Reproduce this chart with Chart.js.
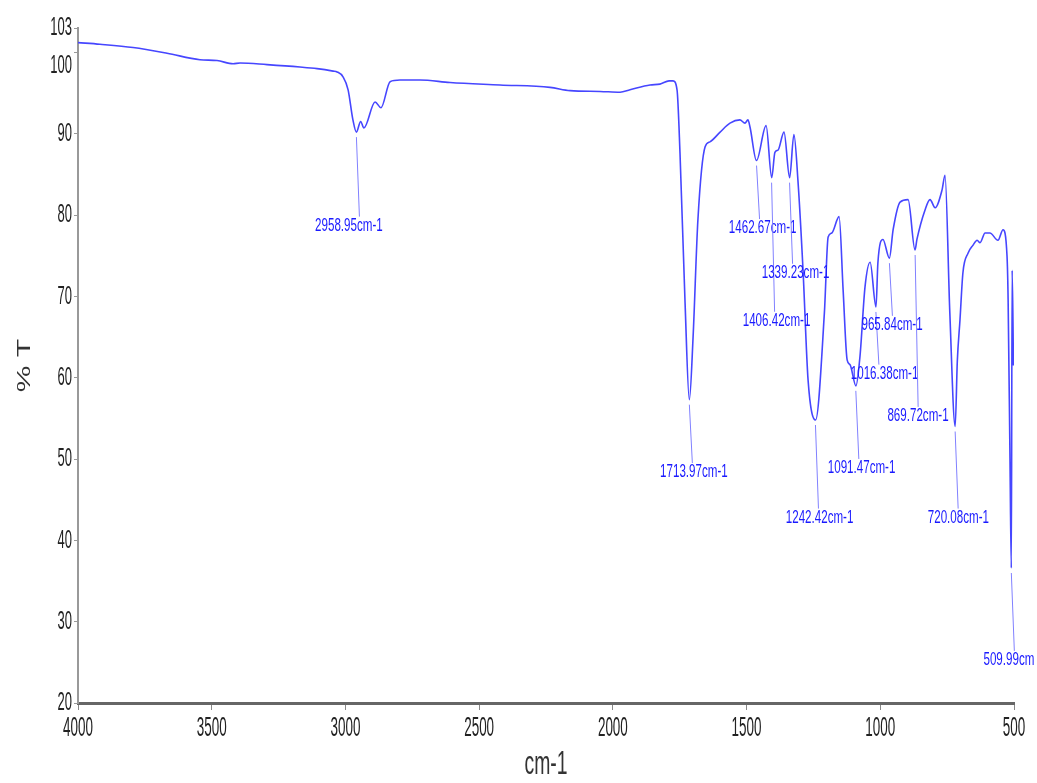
<!DOCTYPE html>
<html>
<head>
<meta charset="utf-8">
<script src="https://cdn.jsdelivr.net/npm/chart.js@4.4.1/dist/chart.umd.min.js"></script>
<style>
  html, body { margin: 0; padding: 0; background: #fff; }
  #wrap { width: 1037px; height: 783px; }
</style>
</head>
<body>
<div id="wrap"><canvas id="ir-chart" width="1037" height="783"></canvas></div>
<script>
// IR spectrum (cm-1 -> %T)
const wavenumbers = [
  4000, 3918, 3794, 3667, 3544, 3480, 3420, 3394, 3293, 3170, 3106, 3046, 3031, 3009, 2990, 2972,
  2959, 2943, 2931, 2889, 2867, 2833, 2796, 2721, 2609, 2422, 2235, 2160, 2048, 1973, 1936, 1861,
  1824, 1790, 1775, 1760, 1749, 1730, 1714, 1700, 1682, 1655, 1637, 1599, 1562, 1525, 1506, 1495,
  1487, 1463, 1427, 1406, 1394, 1382, 1360, 1339, 1323, 1308, 1289, 1270, 1242, 1209, 1195, 1181,
  1154, 1139, 1124, 1113, 1091, 1076, 1057, 1038, 1016, 1009, 990, 966, 952, 926, 896, 870,
  863, 833, 814, 795, 769, 758, 740, 720, 712, 702, 691, 672, 653, 638, 627, 608,
  590, 560, 541, 526, 522, 515, 510, 507, 502,
];
const transmittance = [
  101.2, 101.0, 100.6, 99.9, 99.1, 99.0, 98.6, 98.7, 98.5, 98.2, 98.0, 97.7, 97.6, 97.0, 95.4, 91.7,
  90.2, 91.5, 90.7, 93.9, 93.2, 96.4, 96.6, 96.6, 96.3, 96.0, 95.7, 95.3, 95.2, 95.1, 95.4, 96.0,
  96.1, 96.5, 96.5, 95.4, 87.7, 69.2, 57.3, 65.0, 79.4, 88.4, 89.0, 90.2, 91.3, 91.7, 91.3, 91.7,
  90.8, 86.7, 91.0, 84.6, 87.7, 88.0, 90.2, 84.6, 89.9, 84.3, 73.3, 59.7, 54.8, 68.0, 77.3, 77.8,
  79.8, 70.8, 62.2, 61.6, 59.0, 62.6, 71.2, 74.2, 68.7, 74.1, 77.0, 74.7, 78.2, 81.6, 81.9, 75.7,
  77.0, 80.6, 81.9, 80.9, 83.1, 84.9, 68.0, 54.0, 62.0, 67.1, 72.9, 75.3, 76.3, 76.9, 76.6, 77.8,
  77.8, 76.9, 78.2, 74.9, 69.6, 50.0, 36.6, 73.2, 61.5,
];

// peak labels
const peakWn = [2958.95, 1713.97, 1462.67, 1406.42, 1339.23, 1242.42, 1091.47, 1016.38, 965.84, 869.72, 720.08, 509.99];
const peakT = [90.2, 57.3, 86.7, 84.6, 84.6, 54.8, 59.0, 68.7, 74.7, 75.7, 54.0, 36.6];
const peakText = [
  "2958.95cm-1", "1713.97cm-1", "1462.67cm-1", "1406.42cm-1", "1339.23cm-1", "1242.42cm-1",
  "1091.47cm-1", "1016.38cm-1", "965.84cm-1", "869.72cm-1", "720.08cm-1", "509.99cm",
];
const labelWn = [2987, 1697, 1440, 1388, 1317, 1227, 1070, 984, 956, 859, 708, 519];
const labelT = [78.7, 48.4, 78.4, 67.0, 72.9, 42.8, 48.9, 60.5, 66.5, 55.3, 42.8, 25.3];

const xTicks = [4000, 3500, 3000, 2500, 2000, 1500, 1000, 500];
const yTicks = [20, 30, 40, 50, 60, 70, 80, 90, 100, 103];

// the old instrument font is tall and very narrow, so text is drawn squeezed
function squeezed(ctx, text, x, y, font, sx, color, align, rotate) {
  ctx.save();
  ctx.translate(x, y);
  ctx.scale(sx, 1);
  if (rotate) ctx.rotate(rotate);
  ctx.font = font;
  ctx.fillStyle = color;
  ctx.textAlign = align || "center";
  ctx.textBaseline = "middle";
  ctx.fillText(text, 0, 0);
  ctx.restore();
}

const spectrumText = {
  id: "spectrumText",
  afterDraw(chart) {
    const ctx = chart.ctx;
    const xs = chart.scales.x;
    const ys = chart.scales.y;
    const area = chart.chartArea;

    // axis tick labels
    yTicks.forEach(v => {
      const nudge = v === 100 ? 13 : 0;
      squeezed(ctx, String(v), area.left - 6, ys.getPixelForValue(v) + nudge,
        "26px 'Liberation Sans', Arial, sans-serif", 0.5, "#222", "right");
    });
    xTicks.forEach(v => {
      squeezed(ctx, String(v), xs.getPixelForValue(v), area.bottom + 25,
        "28px 'Liberation Sans', Arial, sans-serif", 0.48, "#222", "center");
    });

    // axis titles
    squeezed(ctx, "cm-1", (area.left + area.right) / 2, 765,
      "34px 'Liberation Sans', Arial, sans-serif", 0.57, "#333", "center");
    squeezed(ctx, "% T", 25, (area.top + area.bottom) / 2,
      "30px 'Liberation Sans', Arial, sans-serif", 0.62, "#333", "center", -Math.PI / 2);

    // peak leader lines and labels
    peakWn.forEach((wn, i) => {
      const px = xs.getPixelForValue(wn);
      const py = ys.getPixelForValue(peakT[i]);
      const ly = ys.getPixelForValue(labelT[i]);
      ctx.save();
      ctx.strokeStyle = "#8080ff";
      ctx.lineWidth = 1;
      ctx.beginPath();
      ctx.moveTo(px, py + 5);
      ctx.lineTo(px + 3, ly - 9);
      ctx.stroke();
      ctx.restore();
      squeezed(ctx, peakText[i], xs.getPixelForValue(labelWn[i]), ly,
        "19px 'Liberation Sans', Arial, sans-serif", 0.61, "#1a1aff", "center");
    });
  },
};

const ctx = document.getElementById("ir-chart").getContext("2d");
new Chart(ctx, {
  type: "line",
  data: {
    datasets: [
      {
        label: "%T",
        data: wavenumbers.map((wn, i) => ({ x: wn, y: transmittance[i] })),
        borderColor: "#4646ff",
        borderWidth: 1.6,
        pointRadius: 0,
        fill: false,
        cubicInterpolationMode: "monotone",
      },
    ],
  },
  options: {
    responsive: false,
    animation: false,
    layout: { padding: { top: 28, right: 23, left: 0, bottom: 0 } },
    plugins: {
      legend: { display: false },
      tooltip: { enabled: false },
    },
    scales: {
      x: {
        type: "linear",
        reverse: true,
        min: 500,
        max: 4000,
        afterBuildTicks: scale => { scale.ticks = xTicks.map(v => ({ value: v })); },
        afterFit: scale => { scale.height = 80; },
        ticks: { display: false },
        grid: { drawOnChartArea: false, drawTicks: true, tickLength: 7, color: "#888", lineWidth: 1 },
        border: { color: "#666", width: 3 },
      },
      y: {
        min: 20,
        max: 103,
        afterBuildTicks: scale => { scale.ticks = yTicks.map(v => ({ value: v })); },
        afterFit: scale => { scale.width = 78; },
        ticks: { display: false },
        grid: { drawOnChartArea: false, drawTicks: true, tickLength: 4, color: "#999", lineWidth: 1 },
        border: { color: "#999", width: 2 },
      },
    },
  },
  plugins: [spectrumText],
});
</script>
</body>
</html>
